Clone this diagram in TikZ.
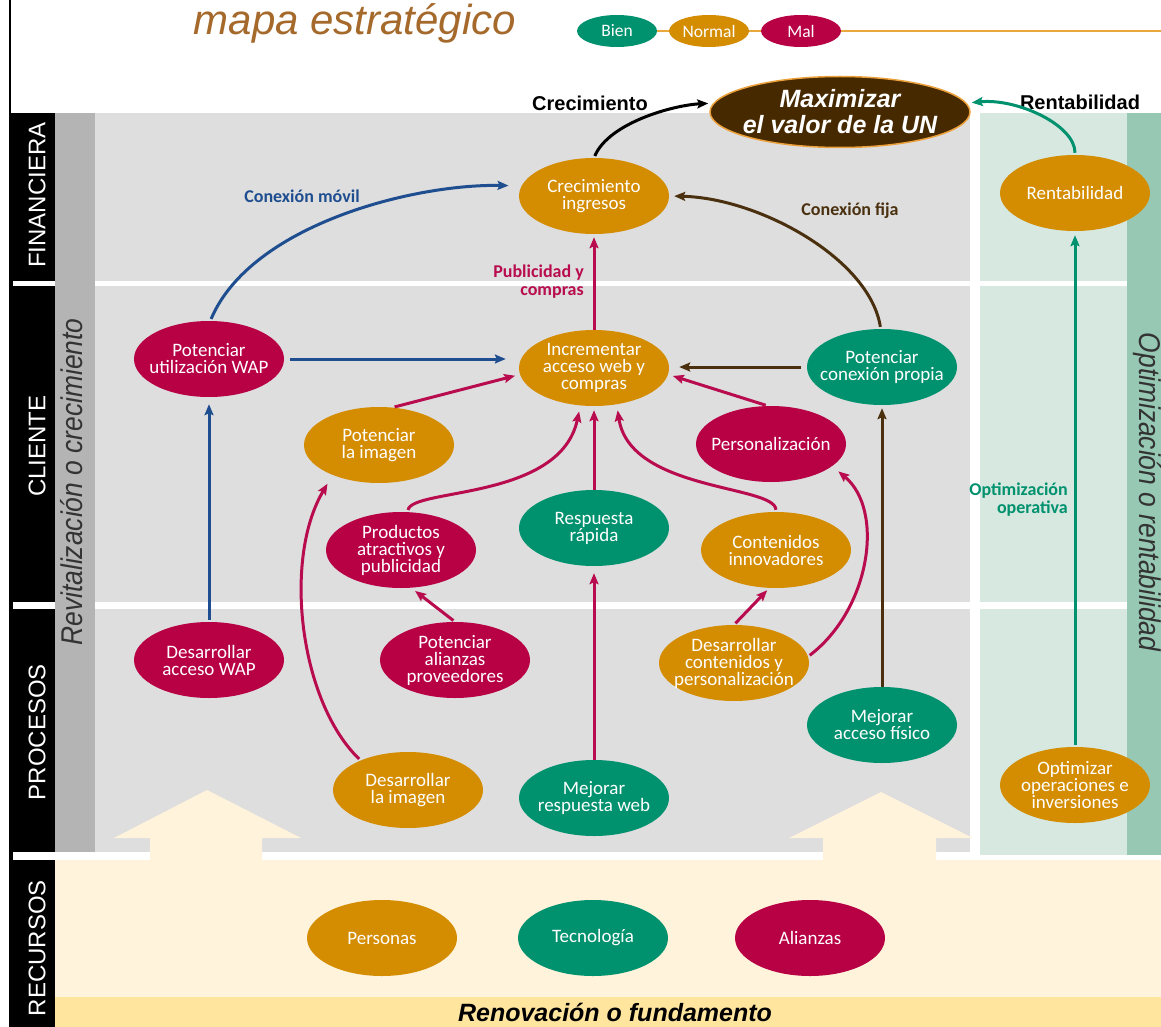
\documentclass[tikz,border=0pt]{standalone}
\usepackage{fontspec}
\setmainfont{Carlito}
\newfontfamily\arialf{Liberation Sans}
\newfontfamily\narrowf[FakeStretch=0.88]{Liberation Sans}
\usetikzlibrary{shapes.geometric,arrows.meta}

\definecolor{orng}{RGB}{212,140,0}
\definecolor{grn}{RGB}{0,145,110}
\definecolor{crim}{RGB}{184,0,69}
\definecolor{arblue}{RGB}{30,78,143}
\definecolor{arbrown}{RGB}{74,48,14}
\definecolor{arcrim}{RGB}{184,12,78}
\definecolor{maxfill}{RGB}{71,41,0}
\definecolor{maxline}{RGB}{235,160,60}
\definecolor{titlec}{RGB}{165,105,43}
\definecolor{lgray}{RGB}{222,222,222}
\definecolor{mgray}{RGB}{180,180,180}
\definecolor{lgreen}{RGB}{214,232,223}
\definecolor{mgreen}{RGB}{150,200,180}
\definecolor{cream}{RGB}{255,243,220}
\definecolor{footband}{RGB}{255,229,158}
\definecolor{legline}{RGB}{232,168,60}

\tikzset{
  goal/.style={ellipse, minimum width=150pt, minimum height=76pt,
    inner xsep=-22pt, inner ysep=-6pt, text=white, align=center,
    font=\fontsize{19}{17}\selectfont},
  ok/.style={goal, fill=grn},
  mid/.style={goal, fill=orng},
  bad/.style={goal, fill=crim},
  legend/.style={ellipse, minimum width=80pt, minimum height=32pt,
    inner sep=0pt, text=white, font=\fontsize{17.5}{17.5}\selectfont},
  link/.style={line width=3pt, -{Stealth[length=11pt,width=9pt,inset=2pt]},
    shorten <=2pt, shorten >=5pt},
  band/.style={rotate=90, text=white, inner sep=0pt,
    font=\arialf\fontsize{24}{24}\selectfont},
  axis/.style={inner sep=0pt, text=black!80,
    font=\narrowf\itshape\fontsize{30}{30}\selectfont},
  elabel/.style={inner sep=0pt, align=right,
    font=\bfseries\fontsize{18}{18}\selectfont},
  toplabel/.style={inner sep=0pt, font=\arialf\bfseries\fontsize{20}{20}\selectfont},
}

\begin{document}
\begin{tikzpicture}[x=1pt,y=-1pt]
\useasboundingbox (0,0) rectangle (1161,1027);
\fill[white] (0,-2) rectangle (1161,1029);

% perspective bands
\fill[lgray] (95,113) rectangle (970,855);
\fill[mgray] (55,113) rectangle (95,855);
\fill[lgreen] (980,113) rectangle (1127,855);
\fill[mgreen] (1127,113) rectangle (1161,855);
\fill[cream] (55,860) rectangle (1161,997);
\fill[footband] (55,997) rectangle (1161,1029);

% white separators between perspectives
\fill[white] (95,281) rectangle (1127,286);
\fill[white] (95,602) rectangle (1127,609);
\fill[white] (12,852) rectangle (975,860);

% black side bar with its band names
\draw[line width=2pt] (10,0) -- (10,113);
\fill[black] (9,113) rectangle (55,1029);
\fill[white] (13,281) rectangle (55,286);
\fill[white] (13,602) rectangle (55,609);
\fill[white] (13,852) rectangle (55,860);
\node[band] (fin) at (37,195) {FINANCIERA};
\node[band] (cli) at (37,446) {CLIENTE};
\node[band] (proc) at (37,732) {PROCESOS};
\node[band] (rec) at (37,948) {RECURSOS};

% side axes
\node[axis, rotate=90] (revit) at (72,482) {Revitalización o crecimiento};
\node[axis, rotate=-90] (optim) at (1147,492) {Optimización o rentabilidad};
\node[inner sep=0pt, font=\arialf\bfseries\itshape\fontsize{25}{25}\selectfont]
  (renov) at (615,1012) {Renovación o fundamento};

% large background arrows from resources
\fill[cream] (150,875) -- (150,838) -- (114,838) -- (207,790) -- (301,838)
  -- (262,838) -- (262,875) -- cycle;
\fill[cream] (823,875) -- (823,838) -- (789,838) -- (881,792) -- (973,838)
  -- (936,838) -- (936,875) -- cycle;

% title and legend
\node[inner sep=0pt, text=titlec, font=\arialf\itshape\fontsize{42}{42}\selectfont]
  (title) at (355,23) {mapa estratégico};
\draw[legline, line width=2pt] (617,31) -- (1161,31);
\node[legend, fill=grn] (bien) at (617,31) {Bien};
\node[legend, fill=orng] (normal) at (709,31) {Normal};
\node[legend, fill=crim] (mal) at (801,31) {Mal};

% top objective
\node[ellipse, fill=maxfill, draw=maxline, line width=1.5pt,
  minimum width=260pt, minimum height=71pt, inner xsep=-25pt, inner ysep=-8pt,
  text=white, align=center,
  font=\arialf\bfseries\itshape\fontsize{25}{26}\selectfont]
  (max) at (840,112) {Maximizar\\el valor de la UN};
\node[toplabel] (lcrec) at (590,103) {Crecimiento};
\node[toplabel] (lrent) at (1080,102) {Rentabilidad};

% objectives
\node[mid] (cing) at (594,196) {Crecimiento\\ingresos};
\node[mid] (rent) at (1075,193) {Rentabilidad};
\node[bad] (wap) at (209,359) {Potenciar\\utilización WAP};
\node[mid] (inc) at (594,368) {Incrementar\\acceso web y\\compras};
\node[ok] (conx) at (882,367) {Potenciar\\conexión propia};
\node[mid] (pimg) at (379,445) {Potenciar\\la imagen};
\node[bad] (pers) at (771,444) {Personalización};
\node[bad] (prod) at (401,550) {Productos\\atractivos y\\publicidad};
\node[ok] (resp) at (594,528) {Respuesta\\rápida};
\node[mid] (cont) at (776,550) {Contenidos\\innovadores};
\node[bad] (dwap) at (209,660) {Desarrollar\\acceso WAP};
\node[bad] (alz) at (455,660) {Potenciar\\alianzas\\proveedores};
\node[mid] (dcont) at (734,663) {Desarrollar\\contenidos y\\personalización};
\node[ok] (macc) at (882,725) {Mejorar\\acceso físico};
\node[mid] (dimg) at (408,790) {Desarrollar\\la imagen};
\node[ok] (mweb) at (594,798) {Mejorar\\respuesta web};
\node[mid] (opt) at (1075,785) {Optimizar\\operaciones e\\inversiones};
\node[mid] (pers2) at (382,938) {Personas};
\node[ok] (tec) at (593,938) {Tecnología};
\node[bad] (ali) at (810,938) {Alianzas};

% connector labels
\node[elabel, text=arblue] (lmovil) at (302,196) {Conexión móvil};
\node[elabel, text=arbrown] (lfija) at (850,211) {Conexión fija};
\node[elabel, text=arcrim, anchor=east] (lpub) at (584,282) {Publicidad y\\compras};
\node[elabel, text=grn, anchor=east] (lopt) at (1068,500) {Optimización\\operativa};

% connectors
\draw[link, black] (cing.90) .. controls +(15,-35) and +(-40,2) .. (max.176);
\draw[link, grn] (rent.90) .. controls +(0,-30) and +(50,-5) .. (max.4);
\draw[link, arblue, shorten >=13pt] (wap.88) .. controls +(40,-95) and +(-110,-2) .. (cing.172);
\draw[link, arblue, shorten <=6pt, shorten >=13pt] (wap.east) -- (wap.east -| inc.west);
\draw[link, arblue, shorten >=7pt] (dwap.north) -- (wap.south);
\draw[link, arcrim, shorten <=0pt, shorten >=3pt] (inc.north) -- (cing.south);
\draw[link, arbrown, shorten <=6pt, shorten >=10pt] (conx.west) -- (conx.west -| inc.east);
\draw[link, arbrown] (conx.92) .. controls +(-11,-70) and +(90,2) .. (cing.0);
\draw[link, arbrown, shorten <=0pt, shorten >=3pt] (macc.north) -- (conx.south);
\draw[link, arcrim] (pimg.70) -- (inc.185);
\draw[link, arcrim] (pers.95) -- (inc.-5);
\draw[link, arcrim, shorten >=6pt] (prod.80) .. controls +(4,-24) and +(-20,95) .. (inc.250);
\draw[link, arcrim, shorten <=0pt, shorten >=4pt] (resp.north) -- (inc.south);
\draw[link, arcrim, shorten >=6pt] (cont.north) .. controls +(-1,-27) and +(13,87) .. (inc.-58);
\draw[link, arcrim, shorten >=10pt] (dimg.148) .. controls +(-61,-59) and +(-50,84) .. (pimg.213);
\draw[link, arcrim] (alz.north) -- (prod.-75);
\draw[link, arcrim, shorten <=0pt, shorten >=7pt] (mweb.north) -- (resp.south);
\draw[link, arcrim, shorten >=3pt] (dcont.north) -- (cont.-100);
\draw[link, arcrim, shorten >=8pt] (dcont.5) .. controls +(62,-47) and +(53,44) .. (pers.-20);
\draw[link, grn, shorten >=4pt] (opt.north) -- (rent.south);
\end{tikzpicture}
\end{document}
